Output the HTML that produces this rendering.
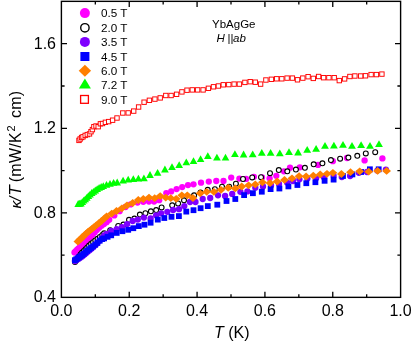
<!DOCTYPE html>
<html><head><meta charset="utf-8"><title>chart</title>
<style>html,body{margin:0;padding:0;background:#fff;width:415px;height:343px;overflow:hidden}body{position:relative;font-family:"Liberation Sans",sans-serif}</style></head>
<body>
<svg width="415" height="343" viewBox="0 0 415 343" style="position:absolute;left:0;top:0;will-change:transform">
<rect width="415" height="343" fill="#fff"/>
<g><circle cx="74.5" cy="252.4" r="3.15" fill="#ff00ff"/><circle cx="75.8" cy="251.1" r="3.15" fill="#ff00ff"/><circle cx="77.2" cy="249.7" r="3.15" fill="#ff00ff"/><circle cx="78.6" cy="248.3" r="3.15" fill="#ff00ff"/><circle cx="80.1" cy="246.8" r="3.15" fill="#ff00ff"/><circle cx="81.6" cy="245.3" r="3.15" fill="#ff00ff"/><circle cx="83.2" cy="243.7" r="3.15" fill="#ff00ff"/><circle cx="84.9" cy="242.0" r="3.15" fill="#ff00ff"/><circle cx="86.7" cy="240.2" r="3.15" fill="#ff00ff"/><circle cx="88.5" cy="238.5" r="3.15" fill="#ff00ff"/><circle cx="90.5" cy="236.7" r="3.15" fill="#ff00ff"/><circle cx="92.5" cy="234.8" r="3.15" fill="#ff00ff"/><circle cx="94.6" cy="232.6" r="3.15" fill="#ff00ff"/><circle cx="96.8" cy="230.1" r="3.15" fill="#ff00ff"/><circle cx="99.1" cy="227.8" r="3.15" fill="#ff00ff"/><circle cx="101.5" cy="225.8" r="3.15" fill="#ff00ff"/><circle cx="104.0" cy="224.0" r="3.15" fill="#ff00ff"/><circle cx="106.6" cy="222.2" r="3.15" fill="#ff00ff"/><circle cx="109.2" cy="219.8" r="3.15" fill="#ff00ff"/><circle cx="114.3" cy="215.4" r="3.15" fill="#ff00ff"/><circle cx="119.6" cy="211.2" r="3.15" fill="#ff00ff"/><circle cx="125.5" cy="207.0" r="3.15" fill="#ff00ff"/><circle cx="130.6" cy="204.4" r="3.15" fill="#ff00ff"/><circle cx="137.5" cy="202.6" r="3.15" fill="#ff00ff"/><circle cx="143.3" cy="201.8" r="3.15" fill="#ff00ff"/><circle cx="149.0" cy="201.6" r="3.15" fill="#ff00ff"/><circle cx="154.1" cy="201.6" r="3.15" fill="#ff00ff"/><circle cx="159.2" cy="200.2" r="3.15" fill="#ff00ff"/><circle cx="166.3" cy="193.1" r="3.15" fill="#ff00ff"/><circle cx="171.2" cy="191.4" r="3.15" fill="#ff00ff"/><circle cx="176.6" cy="189.1" r="3.15" fill="#ff00ff"/><circle cx="182.2" cy="187.1" r="3.15" fill="#ff00ff"/><circle cx="188.0" cy="185.1" r="3.15" fill="#ff00ff"/><circle cx="193.5" cy="184.3" r="3.15" fill="#ff00ff"/><circle cx="201.0" cy="182.7" r="3.15" fill="#ff00ff"/><circle cx="208.8" cy="181.6" r="3.15" fill="#ff00ff"/><circle cx="216.3" cy="181.0" r="3.15" fill="#ff00ff"/><circle cx="223.5" cy="181.0" r="3.15" fill="#ff00ff"/><circle cx="231.2" cy="177.6" r="3.15" fill="#ff00ff"/><circle cx="239.4" cy="178.6" r="3.15" fill="#ff00ff"/><circle cx="246.1" cy="178.9" r="3.15" fill="#ff00ff"/><circle cx="253.9" cy="176.8" r="3.15" fill="#ff00ff"/><circle cx="262.0" cy="177.5" r="3.15" fill="#ff00ff"/><circle cx="269.6" cy="178.3" r="3.15" fill="#ff00ff"/><circle cx="276.3" cy="175.8" r="3.15" fill="#ff00ff"/><circle cx="283.9" cy="171.3" r="3.15" fill="#ff00ff"/><circle cx="290.0" cy="167.7" r="3.15" fill="#ff00ff"/><circle cx="299.8" cy="167.3" r="3.15" fill="#ff00ff"/><circle cx="318.0" cy="164.9" r="3.15" fill="#ff00ff"/><circle cx="332.8" cy="161.2" r="3.15" fill="#ff00ff"/><circle cx="347.0" cy="158.0" r="3.15" fill="#ff00ff"/><circle cx="364.6" cy="160.4" r="3.15" fill="#ff00ff"/><circle cx="382.4" cy="158.4" r="3.15" fill="#ff00ff"/></g>
<g><circle cx="75.0" cy="262.0" r="2.45" fill="#fff" stroke="#000" stroke-width="1.1"/><circle cx="76.3" cy="260.2" r="2.45" fill="#fff" stroke="#000" stroke-width="1.1"/><circle cx="77.7" cy="258.3" r="2.45" fill="#fff" stroke="#000" stroke-width="1.1"/><circle cx="79.1" cy="256.4" r="2.45" fill="#fff" stroke="#000" stroke-width="1.1"/><circle cx="80.6" cy="254.3" r="2.45" fill="#fff" stroke="#000" stroke-width="1.1"/><circle cx="82.1" cy="252.6" r="2.45" fill="#fff" stroke="#000" stroke-width="1.1"/><circle cx="83.8" cy="250.9" r="2.45" fill="#fff" stroke="#000" stroke-width="1.1"/><circle cx="85.5" cy="249.2" r="2.45" fill="#fff" stroke="#000" stroke-width="1.1"/><circle cx="87.3" cy="247.4" r="2.45" fill="#fff" stroke="#000" stroke-width="1.1"/><circle cx="89.1" cy="245.6" r="2.45" fill="#fff" stroke="#000" stroke-width="1.1"/><circle cx="91.1" cy="243.8" r="2.45" fill="#fff" stroke="#000" stroke-width="1.1"/><circle cx="93.1" cy="242.2" r="2.45" fill="#fff" stroke="#000" stroke-width="1.1"/><circle cx="95.3" cy="240.5" r="2.45" fill="#fff" stroke="#000" stroke-width="1.1"/><circle cx="97.5" cy="238.8" r="2.45" fill="#fff" stroke="#000" stroke-width="1.1"/><circle cx="99.9" cy="236.9" r="2.45" fill="#fff" stroke="#000" stroke-width="1.1"/><circle cx="102.3" cy="235.0" r="2.45" fill="#fff" stroke="#000" stroke-width="1.1"/><circle cx="104.1" cy="233.3" r="2.45" fill="#fff" stroke="#000" stroke-width="1.1"/><circle cx="110.2" cy="230.2" r="2.45" fill="#fff" stroke="#000" stroke-width="1.1"/><circle cx="118.2" cy="226.0" r="2.45" fill="#fff" stroke="#000" stroke-width="1.1"/><circle cx="123.4" cy="224.6" r="2.45" fill="#fff" stroke="#000" stroke-width="1.1"/><circle cx="129.0" cy="219.8" r="2.45" fill="#fff" stroke="#000" stroke-width="1.1"/><circle cx="134.4" cy="218.6" r="2.45" fill="#fff" stroke="#000" stroke-width="1.1"/><circle cx="139.9" cy="214.6" r="2.45" fill="#fff" stroke="#000" stroke-width="1.1"/><circle cx="145.4" cy="213.2" r="2.45" fill="#fff" stroke="#000" stroke-width="1.1"/><circle cx="150.9" cy="211.3" r="2.45" fill="#fff" stroke="#000" stroke-width="1.1"/><circle cx="156.2" cy="210.1" r="2.45" fill="#fff" stroke="#000" stroke-width="1.1"/><circle cx="161.6" cy="207.4" r="2.45" fill="#fff" stroke="#000" stroke-width="1.1"/><circle cx="172.2" cy="205.3" r="2.45" fill="#fff" stroke="#000" stroke-width="1.1"/><circle cx="178.1" cy="203.5" r="2.45" fill="#fff" stroke="#000" stroke-width="1.1"/><circle cx="184.0" cy="200.3" r="2.45" fill="#fff" stroke="#000" stroke-width="1.1"/><circle cx="194.1" cy="195.3" r="2.45" fill="#fff" stroke="#000" stroke-width="1.1"/><circle cx="200.5" cy="192.6" r="2.45" fill="#fff" stroke="#000" stroke-width="1.1"/><circle cx="207.7" cy="189.8" r="2.45" fill="#fff" stroke="#000" stroke-width="1.1"/><circle cx="214.9" cy="189.2" r="2.45" fill="#fff" stroke="#000" stroke-width="1.1"/><circle cx="222.0" cy="186.7" r="2.45" fill="#fff" stroke="#000" stroke-width="1.1"/><circle cx="229.2" cy="186.7" r="2.45" fill="#fff" stroke="#000" stroke-width="1.1"/><circle cx="235.9" cy="183.7" r="2.45" fill="#fff" stroke="#000" stroke-width="1.1"/><circle cx="243.0" cy="179.0" r="2.45" fill="#fff" stroke="#000" stroke-width="1.1"/><circle cx="252.2" cy="177.4" r="2.45" fill="#fff" stroke="#000" stroke-width="1.1"/><circle cx="261.0" cy="177.2" r="2.45" fill="#fff" stroke="#000" stroke-width="1.1"/><circle cx="270.0" cy="173.2" r="2.45" fill="#fff" stroke="#000" stroke-width="1.1"/><circle cx="278.8" cy="170.1" r="2.45" fill="#fff" stroke="#000" stroke-width="1.1"/><circle cx="287.3" cy="171.3" r="2.45" fill="#fff" stroke="#000" stroke-width="1.1"/><circle cx="295.9" cy="169.6" r="2.45" fill="#fff" stroke="#000" stroke-width="1.1"/><circle cx="304.9" cy="167.8" r="2.45" fill="#fff" stroke="#000" stroke-width="1.1"/><circle cx="313.7" cy="164.3" r="2.45" fill="#fff" stroke="#000" stroke-width="1.1"/><circle cx="322.4" cy="163.3" r="2.45" fill="#fff" stroke="#000" stroke-width="1.1"/><circle cx="330.9" cy="160.1" r="2.45" fill="#fff" stroke="#000" stroke-width="1.1"/><circle cx="340.1" cy="158.7" r="2.45" fill="#fff" stroke="#000" stroke-width="1.1"/><circle cx="348.4" cy="157.6" r="2.45" fill="#fff" stroke="#000" stroke-width="1.1"/><circle cx="357.3" cy="155.8" r="2.45" fill="#fff" stroke="#000" stroke-width="1.1"/><circle cx="365.8" cy="153.4" r="2.45" fill="#fff" stroke="#000" stroke-width="1.1"/><circle cx="375.2" cy="152.2" r="2.45" fill="#fff" stroke="#000" stroke-width="1.1"/></g>
<g><circle cx="74.9" cy="261.0" r="3.15" fill="#7f00ff"/><circle cx="76.2" cy="260.2" r="3.15" fill="#7f00ff"/><circle cx="77.6" cy="259.3" r="3.15" fill="#7f00ff"/><circle cx="79.0" cy="258.4" r="3.15" fill="#7f00ff"/><circle cx="80.5" cy="257.4" r="3.15" fill="#7f00ff"/><circle cx="82.0" cy="256.4" r="3.15" fill="#7f00ff"/><circle cx="83.6" cy="255.3" r="3.15" fill="#7f00ff"/><circle cx="85.3" cy="253.8" r="3.15" fill="#7f00ff"/><circle cx="87.1" cy="252.3" r="3.15" fill="#7f00ff"/><circle cx="88.9" cy="250.8" r="3.15" fill="#7f00ff"/><circle cx="90.8" cy="249.2" r="3.15" fill="#7f00ff"/><circle cx="92.8" cy="247.6" r="3.15" fill="#7f00ff"/><circle cx="94.9" cy="245.6" r="3.15" fill="#7f00ff"/><circle cx="97.1" cy="243.5" r="3.15" fill="#7f00ff"/><circle cx="99.3" cy="240.8" r="3.15" fill="#7f00ff"/><circle cx="101.7" cy="238.1" r="3.15" fill="#7f00ff"/><circle cx="104.2" cy="235.5" r="3.15" fill="#7f00ff"/><circle cx="106.8" cy="233.8" r="3.15" fill="#7f00ff"/><circle cx="111.2" cy="230.8" r="3.15" fill="#7f00ff"/><circle cx="116.7" cy="229.2" r="3.15" fill="#7f00ff"/><circle cx="122.0" cy="227.1" r="3.15" fill="#7f00ff"/><circle cx="127.1" cy="224.1" r="3.15" fill="#7f00ff"/><circle cx="132.7" cy="221.0" r="3.15" fill="#7f00ff"/><circle cx="137.8" cy="219.6" r="3.15" fill="#7f00ff"/><circle cx="143.9" cy="217.6" r="3.15" fill="#7f00ff"/><circle cx="150.6" cy="218.4" r="3.15" fill="#7f00ff"/><circle cx="156.1" cy="215.3" r="3.15" fill="#7f00ff"/><circle cx="161.2" cy="213.3" r="3.15" fill="#7f00ff"/><circle cx="167.3" cy="211.8" r="3.15" fill="#7f00ff"/><circle cx="173.1" cy="210.0" r="3.15" fill="#7f00ff"/><circle cx="179.0" cy="209.2" r="3.15" fill="#7f00ff"/><circle cx="184.3" cy="206.1" r="3.15" fill="#7f00ff"/><circle cx="190.0" cy="202.0" r="3.15" fill="#7f00ff"/><circle cx="195.5" cy="202.0" r="3.15" fill="#7f00ff"/><circle cx="202.7" cy="199.0" r="3.15" fill="#7f00ff"/><circle cx="210.2" cy="198.0" r="3.15" fill="#7f00ff"/><circle cx="218.0" cy="195.3" r="3.15" fill="#7f00ff"/><circle cx="225.1" cy="195.9" r="3.15" fill="#7f00ff"/><circle cx="232.2" cy="193.9" r="3.15" fill="#7f00ff"/><circle cx="240.4" cy="191.8" r="3.15" fill="#7f00ff"/><circle cx="247.4" cy="191.4" r="3.15" fill="#7f00ff"/><circle cx="255.3" cy="187.7" r="3.15" fill="#7f00ff"/><circle cx="263.0" cy="186.5" r="3.15" fill="#7f00ff"/><circle cx="271.0" cy="185.5" r="3.15" fill="#7f00ff"/><circle cx="279.0" cy="184.0" r="3.15" fill="#7f00ff"/><circle cx="287.0" cy="182.5" r="3.15" fill="#7f00ff"/><circle cx="293.0" cy="181.0" r="3.15" fill="#7f00ff"/><circle cx="299.4" cy="179.3" r="3.15" fill="#7f00ff"/><circle cx="307.4" cy="178.6" r="3.15" fill="#7f00ff"/><circle cx="316.1" cy="178.2" r="3.15" fill="#7f00ff"/><circle cx="324.1" cy="177.6" r="3.15" fill="#7f00ff"/><circle cx="333.6" cy="175.7" r="3.15" fill="#7f00ff"/><circle cx="341.8" cy="177.0" r="3.15" fill="#7f00ff"/><circle cx="350.1" cy="176.0" r="3.15" fill="#7f00ff"/><circle cx="358.9" cy="172.8" r="3.15" fill="#7f00ff"/><circle cx="367.0" cy="172.0" r="3.15" fill="#7f00ff"/><circle cx="377.3" cy="170.6" r="3.15" fill="#7f00ff"/><circle cx="385.9" cy="169.6" r="3.15" fill="#7f00ff"/></g>
<g><rect x="72.0" y="257.3" width="5.8" height="5.8" fill="#0000ff"/><rect x="73.3" y="256.4" width="5.8" height="5.8" fill="#0000ff"/><rect x="74.7" y="255.4" width="5.8" height="5.8" fill="#0000ff"/><rect x="76.1" y="254.4" width="5.8" height="5.8" fill="#0000ff"/><rect x="77.6" y="253.3" width="5.8" height="5.8" fill="#0000ff"/><rect x="79.1" y="252.2" width="5.8" height="5.8" fill="#0000ff"/><rect x="80.8" y="251.0" width="5.8" height="5.8" fill="#0000ff"/><rect x="82.5" y="249.5" width="5.8" height="5.8" fill="#0000ff"/><rect x="84.2" y="247.9" width="5.8" height="5.8" fill="#0000ff"/><rect x="86.1" y="246.5" width="5.8" height="5.8" fill="#0000ff"/><rect x="88.1" y="245.0" width="5.8" height="5.8" fill="#0000ff"/><rect x="90.1" y="243.5" width="5.8" height="5.8" fill="#0000ff"/><rect x="92.3" y="241.8" width="5.8" height="5.8" fill="#0000ff"/><rect x="94.5" y="240.0" width="5.8" height="5.8" fill="#0000ff"/><rect x="96.8" y="237.8" width="5.8" height="5.8" fill="#0000ff"/><rect x="99.3" y="236.2" width="5.8" height="5.8" fill="#0000ff"/><rect x="101.2" y="235.5" width="5.8" height="5.8" fill="#0000ff"/><rect x="104.7" y="233.9" width="5.8" height="5.8" fill="#0000ff"/><rect x="108.3" y="232.4" width="5.8" height="5.8" fill="#0000ff"/><rect x="113.8" y="230.0" width="5.8" height="5.8" fill="#0000ff"/><rect x="119.5" y="228.3" width="5.8" height="5.8" fill="#0000ff"/><rect x="125.3" y="226.9" width="5.8" height="5.8" fill="#0000ff"/><rect x="130.4" y="225.3" width="5.8" height="5.8" fill="#0000ff"/><rect x="135.9" y="223.2" width="5.8" height="5.8" fill="#0000ff"/><rect x="141.6" y="221.8" width="5.8" height="5.8" fill="#0000ff"/><rect x="147.7" y="219.8" width="5.8" height="5.8" fill="#0000ff"/><rect x="154.9" y="216.7" width="5.8" height="5.8" fill="#0000ff"/><rect x="161.4" y="215.1" width="5.8" height="5.8" fill="#0000ff"/><rect x="168.6" y="213.9" width="5.8" height="5.8" fill="#0000ff"/><rect x="176.0" y="213.2" width="5.8" height="5.8" fill="#0000ff"/><rect x="183.4" y="208.7" width="5.8" height="5.8" fill="#0000ff"/><rect x="190.6" y="207.3" width="5.8" height="5.8" fill="#0000ff"/><rect x="197.7" y="205.3" width="5.8" height="5.8" fill="#0000ff"/><rect x="204.9" y="203.2" width="5.8" height="5.8" fill="#0000ff"/><rect x="214.4" y="201.8" width="5.8" height="5.8" fill="#0000ff"/><rect x="223.6" y="198.1" width="5.8" height="5.8" fill="#0000ff"/><rect x="232.4" y="196.1" width="5.8" height="5.8" fill="#0000ff"/><rect x="241.2" y="192.2" width="5.8" height="5.8" fill="#0000ff"/><rect x="250.0" y="190.3" width="5.8" height="5.8" fill="#0000ff"/><rect x="258.9" y="188.8" width="5.8" height="5.8" fill="#0000ff"/><rect x="267.7" y="186.2" width="5.8" height="5.8" fill="#0000ff"/><rect x="276.5" y="185.6" width="5.8" height="5.8" fill="#0000ff"/><rect x="285.5" y="183.5" width="5.8" height="5.8" fill="#0000ff"/><rect x="294.5" y="182.1" width="5.8" height="5.8" fill="#0000ff"/><rect x="303.4" y="180.3" width="5.8" height="5.8" fill="#0000ff"/><rect x="312.5" y="179.3" width="5.8" height="5.8" fill="#0000ff"/><rect x="321.7" y="177.9" width="5.8" height="5.8" fill="#0000ff"/><rect x="330.7" y="176.7" width="5.8" height="5.8" fill="#0000ff"/><rect x="340.1" y="173.1" width="5.8" height="5.8" fill="#0000ff"/><rect x="349.5" y="171.5" width="5.8" height="5.8" fill="#0000ff"/><rect x="358.2" y="169.1" width="5.8" height="5.8" fill="#0000ff"/><rect x="367.0" y="166.4" width="5.8" height="5.8" fill="#0000ff"/><rect x="375.8" y="166.4" width="5.8" height="5.8" fill="#0000ff"/></g>
<g><path d="M73.5 241.6L77.9 237.7L82.3 241.6L77.9 245.5Z" fill="#ff7f00"/><path d="M74.9 240.2L79.3 236.3L83.7 240.2L79.3 244.1Z" fill="#ff7f00"/><path d="M76.4 238.8L80.8 234.9L85.2 238.8L80.8 242.7Z" fill="#ff7f00"/><path d="M78.0 237.2L82.4 233.3L86.8 237.2L82.4 241.1Z" fill="#ff7f00"/><path d="M79.6 235.6L84.0 231.7L88.4 235.6L84.0 239.5Z" fill="#ff7f00"/><path d="M81.4 233.9L85.8 230.0L90.2 233.9L85.8 237.8Z" fill="#ff7f00"/><path d="M83.3 232.2L87.7 228.3L92.1 232.2L87.7 236.1Z" fill="#ff7f00"/><path d="M85.3 230.6L89.7 226.7L94.1 230.6L89.7 234.5Z" fill="#ff7f00"/><path d="M87.4 229.0L91.8 225.1L96.2 229.0L91.8 232.9Z" fill="#ff7f00"/><path d="M89.6 227.2L94.0 223.3L98.4 227.2L94.0 231.1Z" fill="#ff7f00"/><path d="M92.0 225.2L96.4 221.3L100.8 225.2L96.4 229.1Z" fill="#ff7f00"/><path d="M94.5 223.2L98.9 219.3L103.3 223.2L98.9 227.1Z" fill="#ff7f00"/><path d="M97.1 221.0L101.5 217.1L105.9 221.0L101.5 224.9Z" fill="#ff7f00"/><path d="M100.0 218.4L104.4 214.5L108.8 218.4L104.4 222.3Z" fill="#ff7f00"/><path d="M102.2 216.4L106.6 212.5L111.0 216.4L106.6 220.3Z" fill="#ff7f00"/><path d="M107.3 213.6L111.7 209.7L116.1 213.6L111.7 217.5Z" fill="#ff7f00"/><path d="M112.1 211.0L116.5 207.1L120.9 211.0L116.5 214.9Z" fill="#ff7f00"/><path d="M117.5 208.3L121.9 204.4L126.3 208.3L121.9 212.2Z" fill="#ff7f00"/><path d="M122.6 205.3L127.0 201.4L131.4 205.3L127.0 209.2Z" fill="#ff7f00"/><path d="M128.3 203.0L132.7 199.1L137.1 203.0L132.7 206.9Z" fill="#ff7f00"/><path d="M133.9 200.0L138.3 196.1L142.7 200.0L138.3 203.9Z" fill="#ff7f00"/><path d="M138.9 199.0L143.3 195.1L147.7 199.0L143.3 202.9Z" fill="#ff7f00"/><path d="M144.6 197.6L149.0 193.7L153.4 197.6L149.0 201.5Z" fill="#ff7f00"/><path d="M150.3 198.2L154.7 194.3L159.1 198.2L154.7 202.1Z" fill="#ff7f00"/><path d="M155.8 196.1L160.2 192.2L164.6 196.1L160.2 200.0Z" fill="#ff7f00"/><path d="M161.3 197.6L165.7 193.7L170.1 197.6L165.7 201.5Z" fill="#ff7f00"/><path d="M166.4 198.2L170.8 194.3L175.2 198.2L170.8 202.1Z" fill="#ff7f00"/><path d="M171.8 198.8L176.2 194.9L180.6 198.8L176.2 202.7Z" fill="#ff7f00"/><path d="M177.4 195.3L181.8 191.4L186.2 195.3L181.8 199.2Z" fill="#ff7f00"/><path d="M182.9 195.3L187.3 191.4L191.7 195.3L187.3 199.2Z" fill="#ff7f00"/><path d="M188.5 198.0L192.9 194.1L197.3 198.0L192.9 201.9Z" fill="#ff7f00"/><path d="M195.8 193.3L200.2 189.4L204.6 193.3L200.2 197.2Z" fill="#ff7f00"/><path d="M202.3 191.8L206.7 187.9L211.1 191.8L206.7 195.7Z" fill="#ff7f00"/><path d="M209.5 191.8L213.9 187.9L218.3 191.8L213.9 195.7Z" fill="#ff7f00"/><path d="M216.6 189.8L221.0 185.9L225.4 189.8L221.0 193.7Z" fill="#ff7f00"/><path d="M223.8 187.8L228.2 183.9L232.6 187.8L228.2 191.7Z" fill="#ff7f00"/><path d="M230.9 188.4L235.3 184.5L239.7 188.4L235.3 192.3Z" fill="#ff7f00"/><path d="M237.3 186.5L241.7 182.6L246.1 186.5L241.7 190.4Z" fill="#ff7f00"/><path d="M244.2 185.3L248.6 181.4L253.0 185.3L248.6 189.2Z" fill="#ff7f00"/><path d="M250.9 184.4L255.3 180.5L259.7 184.4L255.3 188.3Z" fill="#ff7f00"/><path d="M258.0 182.3L262.4 178.4L266.8 182.3L262.4 186.2Z" fill="#ff7f00"/><path d="M265.6 183.0L270.0 179.1L274.4 183.0L270.0 186.9Z" fill="#ff7f00"/><path d="M272.7 181.5L277.1 177.6L281.5 181.5L277.1 185.4Z" fill="#ff7f00"/><path d="M280.1 179.9L284.5 176.0L288.9 179.9L284.5 183.8Z" fill="#ff7f00"/><path d="M287.6 178.3L292.0 174.4L296.4 178.3L292.0 182.2Z" fill="#ff7f00"/><path d="M294.7 176.2L299.1 172.3L303.5 176.2L299.1 180.1Z" fill="#ff7f00"/><path d="M301.7 176.5L306.1 172.6L310.5 176.5L306.1 180.4Z" fill="#ff7f00"/><path d="M308.9 175.7L313.3 171.8L317.7 175.7L313.3 179.6Z" fill="#ff7f00"/><path d="M315.8 174.5L320.2 170.6L324.6 174.5L320.2 178.4Z" fill="#ff7f00"/><path d="M322.6 173.8L327.0 169.9L331.4 173.8L327.0 177.7Z" fill="#ff7f00"/><path d="M328.5 172.8L332.9 168.9L337.3 172.8L332.9 176.7Z" fill="#ff7f00"/><path d="M337.0 174.0L341.4 170.1L345.8 174.0L341.4 177.9Z" fill="#ff7f00"/><path d="M346.1 172.2L350.5 168.3L354.9 172.2L350.5 176.1Z" fill="#ff7f00"/><path d="M355.3 171.3L359.7 167.4L364.1 171.3L359.7 175.2Z" fill="#ff7f00"/><path d="M364.3 171.7L368.7 167.8L373.1 171.7L368.7 175.6Z" fill="#ff7f00"/><path d="M373.2 170.9L377.6 167.0L382.0 170.9L377.6 174.8Z" fill="#ff7f00"/><path d="M382.2 170.9L386.6 167.0L391.0 170.9L386.6 174.8Z" fill="#ff7f00"/></g>
<g><path d="M74.4 206.9L78.2 200.1L82.0 206.9Z" fill="#00ff00"/><path d="M75.7 206.7L79.5 199.8L83.3 206.7Z" fill="#00ff00"/><path d="M77.0 206.4L80.8 199.6L84.7 206.4Z" fill="#00ff00"/><path d="M78.4 205.0L82.2 198.2L86.1 205.0Z" fill="#00ff00"/><path d="M79.8 203.6L83.7 196.8L87.5 203.6Z" fill="#00ff00"/><path d="M81.3 202.2L85.2 195.4L89.0 202.2Z" fill="#00ff00"/><path d="M82.9 200.7L86.7 193.9L90.6 200.7Z" fill="#00ff00"/><path d="M84.5 199.1L88.3 192.3L92.2 199.1Z" fill="#00ff00"/><path d="M86.1 197.6L90.0 190.8L93.8 197.6Z" fill="#00ff00"/><path d="M87.8 195.9L91.7 189.1L95.5 195.9Z" fill="#00ff00"/><path d="M89.6 194.7L93.4 187.9L97.3 194.7Z" fill="#00ff00"/><path d="M91.4 193.4L95.3 186.6L99.1 193.4Z" fill="#00ff00"/><path d="M93.3 192.0L97.2 185.2L101.0 192.0Z" fill="#00ff00"/><path d="M95.3 190.7L99.1 183.9L103.0 190.7Z" fill="#00ff00"/><path d="M97.3 189.9L101.2 183.1L105.0 189.9Z" fill="#00ff00"/><path d="M99.4 189.0L103.3 182.2L107.1 189.0Z" fill="#00ff00"/><path d="M102.7 187.8L106.5 181.0L110.3 187.8Z" fill="#00ff00"/><path d="M106.2 186.7L110.0 179.9L113.8 186.7Z" fill="#00ff00"/><path d="M109.8 185.7L113.6 178.9L117.4 185.7Z" fill="#00ff00"/><path d="M113.4 185.4L117.2 178.6L121.0 185.4Z" fill="#00ff00"/><path d="M119.2 183.6L123.1 176.8L126.9 183.6Z" fill="#00ff00"/><path d="M124.3 182.6L128.2 175.8L132.0 182.6Z" fill="#00ff00"/><path d="M129.5 182.0L133.3 175.2L137.2 182.0Z" fill="#00ff00"/><path d="M134.6 181.6L138.4 174.8L142.2 181.6Z" fill="#00ff00"/><path d="M140.1 181.2L143.9 174.4L147.8 181.2Z" fill="#00ff00"/><path d="M146.2 177.9L150.0 171.1L153.8 177.9Z" fill="#00ff00"/><path d="M153.8 175.8L157.6 169.0L161.4 175.8Z" fill="#00ff00"/><path d="M161.1 172.4L164.9 165.6L168.8 172.4Z" fill="#00ff00"/><path d="M168.2 170.1L172.0 163.3L175.8 170.1Z" fill="#00ff00"/><path d="M175.3 168.1L179.2 161.3L183.0 168.1Z" fill="#00ff00"/><path d="M182.5 165.2L186.3 158.4L190.2 165.2Z" fill="#00ff00"/><path d="M189.7 164.0L193.5 157.2L197.3 164.0Z" fill="#00ff00"/><path d="M196.8 162.0L200.6 155.2L204.4 162.0Z" fill="#00ff00"/><path d="M204.0 159.1L207.8 152.3L211.7 159.1Z" fill="#00ff00"/><path d="M213.1 160.5L216.9 153.7L220.8 160.5Z" fill="#00ff00"/><path d="M221.7 160.5L225.5 153.7L229.3 160.5Z" fill="#00ff00"/><path d="M231.1 157.1L234.9 150.3L238.8 157.1Z" fill="#00ff00"/><path d="M239.8 157.4L243.6 150.6L247.4 157.4Z" fill="#00ff00"/><path d="M248.8 157.2L252.7 150.4L256.6 157.2Z" fill="#00ff00"/><path d="M257.9 155.7L261.8 148.9L265.7 155.7Z" fill="#00ff00"/><path d="M266.8 155.7L270.6 148.9L274.5 155.7Z" fill="#00ff00"/><path d="M275.9 156.2L279.8 149.4L283.7 156.2Z" fill="#00ff00"/><path d="M285.1 155.1L289.0 148.3L292.9 155.1Z" fill="#00ff00"/><path d="M294.2 155.4L298.1 148.6L302.0 155.4Z" fill="#00ff00"/><path d="M303.3 152.7L307.2 145.9L311.1 152.7Z" fill="#00ff00"/><path d="M312.2 151.8L316.1 145.0L320.0 151.8Z" fill="#00ff00"/><path d="M321.1 148.8L325.0 142.0L328.9 148.8Z" fill="#00ff00"/><path d="M330.0 148.5L333.9 141.7L337.8 148.5Z" fill="#00ff00"/><path d="M339.1 147.8L343.0 141.0L346.9 147.8Z" fill="#00ff00"/><path d="M348.1 148.8L352.0 142.0L355.9 148.8Z" fill="#00ff00"/><path d="M357.2 148.1L361.1 141.3L365.0 148.1Z" fill="#00ff00"/><path d="M366.1 148.7L370.0 141.9L373.9 148.7Z" fill="#00ff00"/><path d="M375.1 147.1L379.0 140.3L382.9 147.1Z" fill="#00ff00"/></g>
<g><rect x="76.8" y="138.2" width="4.4" height="4.4" fill="#fff" stroke="#ff0000" stroke-width="0.95"/><rect x="77.9" y="136.8" width="4.4" height="4.4" fill="#fff" stroke="#ff0000" stroke-width="0.95"/><rect x="79.4" y="135.3" width="4.4" height="4.4" fill="#fff" stroke="#ff0000" stroke-width="0.95"/><rect x="80.8" y="134.6" width="4.4" height="4.4" fill="#fff" stroke="#ff0000" stroke-width="0.95"/><rect x="83.0" y="133.2" width="4.4" height="4.4" fill="#fff" stroke="#ff0000" stroke-width="0.95"/><rect x="85.1" y="132.4" width="4.4" height="4.4" fill="#fff" stroke="#ff0000" stroke-width="0.95"/><rect x="87.3" y="131.7" width="4.4" height="4.4" fill="#fff" stroke="#ff0000" stroke-width="0.95"/><rect x="88.8" y="129.5" width="4.4" height="4.4" fill="#fff" stroke="#ff0000" stroke-width="0.95"/><rect x="90.2" y="127.4" width="4.4" height="4.4" fill="#fff" stroke="#ff0000" stroke-width="0.95"/><rect x="91.7" y="124.5" width="4.4" height="4.4" fill="#fff" stroke="#ff0000" stroke-width="0.95"/><rect x="93.8" y="123.8" width="4.4" height="4.4" fill="#fff" stroke="#ff0000" stroke-width="0.95"/><rect x="96.0" y="124.5" width="4.4" height="4.4" fill="#fff" stroke="#ff0000" stroke-width="0.95"/><rect x="98.2" y="121.6" width="4.4" height="4.4" fill="#fff" stroke="#ff0000" stroke-width="0.95"/><rect x="100.3" y="121.3" width="4.4" height="4.4" fill="#fff" stroke="#ff0000" stroke-width="0.95"/><rect x="103.2" y="120.1" width="4.4" height="4.4" fill="#fff" stroke="#ff0000" stroke-width="0.95"/><rect x="106.5" y="119.4" width="4.4" height="4.4" fill="#fff" stroke="#ff0000" stroke-width="0.95"/><rect x="110.4" y="118.0" width="4.4" height="4.4" fill="#fff" stroke="#ff0000" stroke-width="0.95"/><rect x="114.8" y="115.8" width="4.4" height="4.4" fill="#fff" stroke="#ff0000" stroke-width="0.95"/><rect x="120.6" y="110.8" width="4.4" height="4.4" fill="#fff" stroke="#ff0000" stroke-width="0.95"/><rect x="126.0" y="110.7" width="4.4" height="4.4" fill="#fff" stroke="#ff0000" stroke-width="0.95"/><rect x="131.5" y="108.9" width="4.4" height="4.4" fill="#fff" stroke="#ff0000" stroke-width="0.95"/><rect x="136.4" y="104.8" width="4.4" height="4.4" fill="#fff" stroke="#ff0000" stroke-width="0.95"/><rect x="141.9" y="100.0" width="4.4" height="4.4" fill="#fff" stroke="#ff0000" stroke-width="0.95"/><rect x="147.2" y="98.1" width="4.4" height="4.4" fill="#fff" stroke="#ff0000" stroke-width="0.95"/><rect x="152.7" y="96.9" width="4.4" height="4.4" fill="#fff" stroke="#ff0000" stroke-width="0.95"/><rect x="158.0" y="95.7" width="4.4" height="4.4" fill="#fff" stroke="#ff0000" stroke-width="0.95"/><rect x="163.6" y="93.3" width="4.4" height="4.4" fill="#fff" stroke="#ff0000" stroke-width="0.95"/><rect x="168.9" y="93.3" width="4.4" height="4.4" fill="#fff" stroke="#ff0000" stroke-width="0.95"/><rect x="174.4" y="92.1" width="4.4" height="4.4" fill="#fff" stroke="#ff0000" stroke-width="0.95"/><rect x="179.7" y="89.7" width="4.4" height="4.4" fill="#fff" stroke="#ff0000" stroke-width="0.95"/><rect x="184.8" y="88.0" width="4.4" height="4.4" fill="#fff" stroke="#ff0000" stroke-width="0.95"/><rect x="190.1" y="87.7" width="4.4" height="4.4" fill="#fff" stroke="#ff0000" stroke-width="0.95"/><rect x="195.4" y="87.7" width="4.4" height="4.4" fill="#fff" stroke="#ff0000" stroke-width="0.95"/><rect x="200.9" y="87.7" width="4.4" height="4.4" fill="#fff" stroke="#ff0000" stroke-width="0.95"/><rect x="206.2" y="86.1" width="4.4" height="4.4" fill="#fff" stroke="#ff0000" stroke-width="0.95"/><rect x="211.3" y="84.6" width="4.4" height="4.4" fill="#fff" stroke="#ff0000" stroke-width="0.95"/><rect x="216.2" y="83.8" width="4.4" height="4.4" fill="#fff" stroke="#ff0000" stroke-width="0.95"/><rect x="221.1" y="82.6" width="4.4" height="4.4" fill="#fff" stroke="#ff0000" stroke-width="0.95"/><rect x="226.6" y="82.4" width="4.4" height="4.4" fill="#fff" stroke="#ff0000" stroke-width="0.95"/><rect x="231.9" y="81.9" width="4.4" height="4.4" fill="#fff" stroke="#ff0000" stroke-width="0.95"/><rect x="237.2" y="81.9" width="4.4" height="4.4" fill="#fff" stroke="#ff0000" stroke-width="0.95"/><rect x="242.7" y="80.2" width="4.4" height="4.4" fill="#fff" stroke="#ff0000" stroke-width="0.95"/><rect x="248.0" y="79.5" width="4.4" height="4.4" fill="#fff" stroke="#ff0000" stroke-width="0.95"/><rect x="253.1" y="80.0" width="4.4" height="4.4" fill="#fff" stroke="#ff0000" stroke-width="0.95"/><rect x="258.4" y="81.9" width="4.4" height="4.4" fill="#fff" stroke="#ff0000" stroke-width="0.95"/><rect x="263.7" y="77.8" width="4.4" height="4.4" fill="#fff" stroke="#ff0000" stroke-width="0.95"/><rect x="269.2" y="77.1" width="4.4" height="4.4" fill="#fff" stroke="#ff0000" stroke-width="0.95"/><rect x="274.5" y="76.6" width="4.4" height="4.4" fill="#fff" stroke="#ff0000" stroke-width="0.95"/><rect x="279.6" y="76.6" width="4.4" height="4.4" fill="#fff" stroke="#ff0000" stroke-width="0.95"/><rect x="284.9" y="75.9" width="4.4" height="4.4" fill="#fff" stroke="#ff0000" stroke-width="0.95"/><rect x="290.2" y="75.9" width="4.4" height="4.4" fill="#fff" stroke="#ff0000" stroke-width="0.95"/><rect x="295.3" y="77.6" width="4.4" height="4.4" fill="#fff" stroke="#ff0000" stroke-width="0.95"/><rect x="300.6" y="75.9" width="4.4" height="4.4" fill="#fff" stroke="#ff0000" stroke-width="0.95"/><rect x="305.9" y="74.5" width="4.4" height="4.4" fill="#fff" stroke="#ff0000" stroke-width="0.95"/><rect x="311.1" y="76.2" width="4.4" height="4.4" fill="#fff" stroke="#ff0000" stroke-width="0.95"/><rect x="316.4" y="74.3" width="4.4" height="4.4" fill="#fff" stroke="#ff0000" stroke-width="0.95"/><rect x="321.4" y="75.5" width="4.4" height="4.4" fill="#fff" stroke="#ff0000" stroke-width="0.95"/><rect x="326.7" y="75.5" width="4.4" height="4.4" fill="#fff" stroke="#ff0000" stroke-width="0.95"/><rect x="332.0" y="75.5" width="4.4" height="4.4" fill="#fff" stroke="#ff0000" stroke-width="0.95"/><rect x="337.1" y="78.4" width="4.4" height="4.4" fill="#fff" stroke="#ff0000" stroke-width="0.95"/><rect x="342.4" y="76.7" width="4.4" height="4.4" fill="#fff" stroke="#ff0000" stroke-width="0.95"/><rect x="347.7" y="74.3" width="4.4" height="4.4" fill="#fff" stroke="#ff0000" stroke-width="0.95"/><rect x="352.7" y="73.8" width="4.4" height="4.4" fill="#fff" stroke="#ff0000" stroke-width="0.95"/><rect x="358.5" y="73.8" width="4.4" height="4.4" fill="#fff" stroke="#ff0000" stroke-width="0.95"/><rect x="363.3" y="73.6" width="4.4" height="4.4" fill="#fff" stroke="#ff0000" stroke-width="0.95"/><rect x="368.9" y="72.4" width="4.4" height="4.4" fill="#fff" stroke="#ff0000" stroke-width="0.95"/><rect x="374.2" y="72.4" width="4.4" height="4.4" fill="#fff" stroke="#ff0000" stroke-width="0.95"/><rect x="379.7" y="71.9" width="4.4" height="4.4" fill="#fff" stroke="#ff0000" stroke-width="0.95"/></g>
<rect x="61.4" y="1.35" width="339.20000000000005" height="296.0" fill="none" stroke="#000" stroke-width="1.4"/>
<path d="M95.32 1.35v3.2M95.32 297.35v-3.2M129.24 1.35v5.6M129.24 297.35v-5.6M163.16 1.35v3.2M163.16 297.35v-3.2M197.08 1.35v5.6M197.08 297.35v-5.6M231.00 1.35v3.2M231.00 297.35v-3.2M264.92 1.35v5.6M264.92 297.35v-5.6M298.84 1.35v3.2M298.84 297.35v-3.2M332.76 1.35v5.6M332.76 297.35v-5.6M366.68 1.35v3.2M366.68 297.35v-3.2M61.4 255.12h3.2M400.6 255.12h-3.2M61.4 212.84h5.6M400.6 212.84h-5.6M61.4 170.56h3.2M400.6 170.56h-3.2M61.4 128.28h5.6M400.6 128.28h-5.6M61.4 86.00h3.2M400.6 86.00h-3.2M61.4 43.72h5.6M400.6 43.72h-5.6" stroke="#000" stroke-width="1.3" fill="none"/>
<text x="61.4" y="316" font-size="16" text-anchor="middle" font-family="Liberation Sans, sans-serif">0.0</text>
<text x="129.2" y="316" font-size="16" text-anchor="middle" font-family="Liberation Sans, sans-serif">0.2</text>
<text x="197.1" y="316" font-size="16" text-anchor="middle" font-family="Liberation Sans, sans-serif">0.4</text>
<text x="264.9" y="316" font-size="16" text-anchor="middle" font-family="Liberation Sans, sans-serif">0.6</text>
<text x="332.8" y="316" font-size="16" text-anchor="middle" font-family="Liberation Sans, sans-serif">0.8</text>
<text x="400.6" y="316" font-size="16" text-anchor="middle" font-family="Liberation Sans, sans-serif">1.0</text>
<text x="56" y="302.4" font-size="16" text-anchor="end" font-family="Liberation Sans, sans-serif">0.4</text>
<text x="56" y="217.8" font-size="16" text-anchor="end" font-family="Liberation Sans, sans-serif">0.8</text>
<text x="56" y="133.3" font-size="16" text-anchor="end" font-family="Liberation Sans, sans-serif">1.2</text>
<text x="56" y="48.7" font-size="16" text-anchor="end" font-family="Liberation Sans, sans-serif">1.6</text>
<text x="231.8" y="337.6" font-size="16" text-anchor="middle" font-family="Liberation Sans, sans-serif"><tspan font-style="italic">T</tspan> (K)</text>
<text transform="translate(20.6,208.6) rotate(-90) scale(1.08,1)" font-size="14.5" font-style="italic" font-family="Liberation Sans, sans-serif">κ</text>
<text transform="translate(20.6,209.0) rotate(-90)" font-size="16" letter-spacing="0.3" font-family="Liberation Sans, sans-serif"><tspan font-style="italic" x="8.0">/</tspan><tspan font-style="italic" font-size="17" x="13.2">T</tspan><tspan x="21.9"> (mW/K</tspan><tspan font-size="11" dy="-6" dx="0.5">2</tspan><tspan dy="6" dx="2.2"> cm)</tspan></text>
<text x="212" y="27.8" font-size="11.5" font-family="Liberation Sans, sans-serif">YbAgGe</text>
<text x="216.5" y="41.8" font-size="11.5" font-family="Liberation Sans, sans-serif"><tspan font-style="italic">H</tspan><tspan dx="2.6">||</tspan><tspan font-style="italic" dx="-0.3">ab</tspan></text>
<circle cx="84.9" cy="13.1" r="5.0" fill="#ff00ff"/>
<circle cx="84.9" cy="27.8" r="4.2" fill="#fff" stroke="#000" stroke-width="1.4"/>
<circle cx="84.9" cy="41.9" r="5.0" fill="#7f00ff"/>
<rect x="80.4" y="52.0" width="9.0" height="9.0" fill="#0000ff"/>
<path d="M78.7 70.8L84.9 64.8L91.1 70.8L84.9 76.8Z" fill="#ff7f00"/>
<path d="M78.9 88.6L84.9 78.5L90.9 88.6Z" fill="#00ff00"/>
<rect x="80.6" y="95.5" width="7.8" height="7.8" fill="#fff" stroke="#ff0000" stroke-width="1.3"/>
<text x="101" y="17.4" font-size="11.7" font-family="Liberation Sans, sans-serif">0.5 T</text>
<text x="101" y="31.8" font-size="11.7" font-family="Liberation Sans, sans-serif">2.0 T</text>
<text x="101" y="46.1" font-size="11.7" font-family="Liberation Sans, sans-serif">3.5 T</text>
<text x="101" y="60.5" font-size="11.7" font-family="Liberation Sans, sans-serif">4.5 T</text>
<text x="101" y="75.0" font-size="11.7" font-family="Liberation Sans, sans-serif">6.0 T</text>
<text x="101" y="89.3" font-size="11.7" font-family="Liberation Sans, sans-serif">7.2 T</text>
<text x="101" y="103.8" font-size="11.7" font-family="Liberation Sans, sans-serif">9.0 T</text>
</svg>
</body></html>
